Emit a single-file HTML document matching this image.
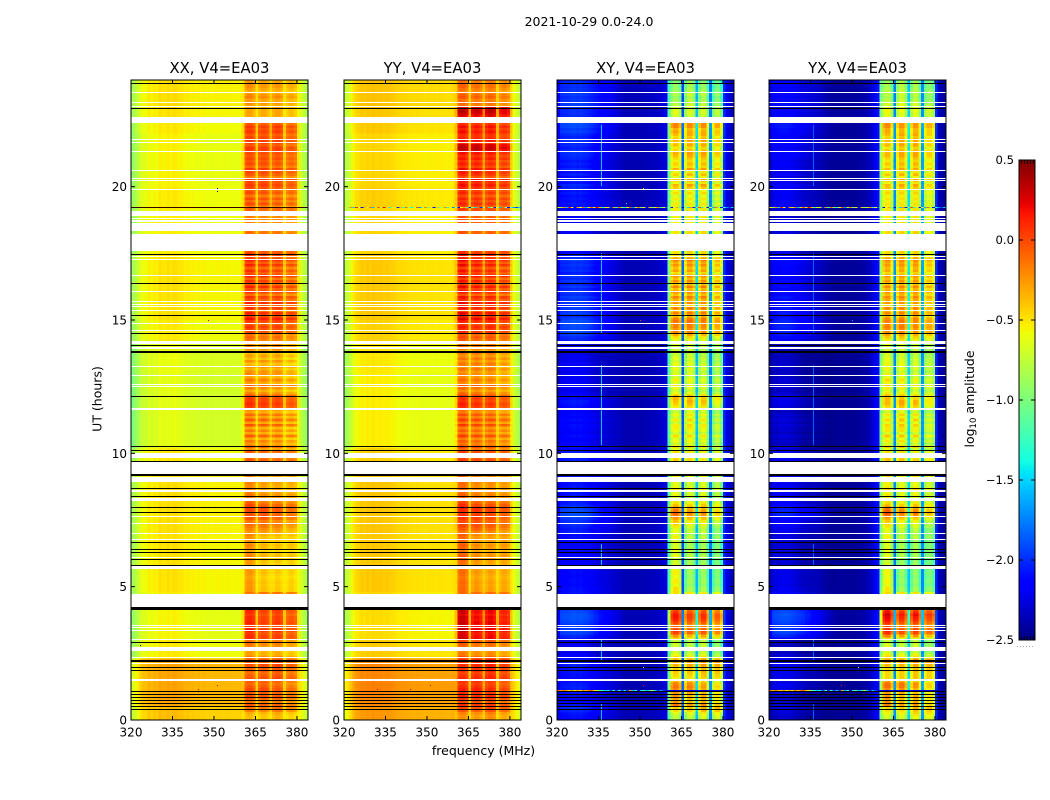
<!DOCTYPE html>
<html lang="en">
<head>
<meta charset="utf-8">
<title>2021-10-29 0.0-24.0</title>
<style>
html,body{margin:0;padding:0;background:#fff}
#figure{position:relative;width:1050px;height:800px;overflow:hidden;background:#fff;font-family:"DejaVu Sans","Liberation Sans",sans-serif}
canvas{position:absolute;top:80px;height:640px;image-rendering:pixelated}
#overlay{position:absolute;left:0;top:0}
text{font-family:"DejaVu Sans","Liberation Sans",sans-serif;fill:#000}
</style>
</head>
<body>
<div id="figure">
<canvas id="heat-xx" width="64" height="240" style="left:131px;width:177px"></canvas>
<canvas id="heat-yy" width="64" height="240" style="left:344px;width:177px"></canvas>
<canvas id="heat-xy" width="64" height="240" style="left:557px;width:177px"></canvas>
<canvas id="heat-yx" width="64" height="240" style="left:769px;width:177px"></canvas>
<svg id="overlay" width="1050" height="800" xmlns="http://www.w3.org/2000/svg">
<text x="589" y="26" text-anchor="middle" font-size="12.5">2021-10-29 0.0-24.0</text>
<text x="483.500" y="755" text-anchor="middle" font-size="12.5">frequency (MHz)</text>
<text transform="translate(101.500,399) rotate(-90)" text-anchor="middle" font-size="12.5">UT (hours)</text>
<text transform="translate(974,399) rotate(-90)" text-anchor="middle" font-size="12.5">log<tspan font-size="8.500" dy="2">10</tspan><tspan dy="-2"> amplitude</tspan></text>
</svg>
</div>
<script>
/* ---------- shared axis data ---------- */
const xTicks = [320, 335, 350, 365, 380];
const yTicks = [0, 5, 10, 15, 20];
const colorbarTicks = [-2.5, -2.0, -1.5, -1.0, -0.5, 0.0, 0.5];

/* block edges (UT hours) for the block-level arrays */
const blockEdges = [0,.5,1,1.5,2.3,3,4.2,4.8,5.8,7,8,9.2,10.2,11,12,13,14.2,15,16,17.5,19.2,20,21,22,22.5,23,24];

/* out-of-band level per block, dex */
const outXX = [.12,.2,.2,.2,-.03,-.06,-.03,0,0,.01,.01,-.02,-.13,-.13,-.13,-.11,-.03,0,0,-.04,-.03,-.05,-.05,-.02,0,.01];
const outYY = [.2,.25,.27,.25,.03,-.02,0,.04,.04,.05,.05,.02,-.08,-.08,-.08,-.06,.01,.04,.04,0,.02,0,0,.04,.05,.06];
const outXY = [.1,0,.05,.05,0,.1,.05,.1,.08,.15,.1,.08,.05,.05,0,0,.15,.12,.1,-.05,.08,.08,.1,.15,.2,.25];
const outYX = [-.05,-.1,-.05,0,-.05,.15,.05,.08,.03,.08,.05,0,-.05,-.05,-.05,-.05,.1,.08,.05,-.05,.03,.03,.05,.08,.12,.15];

/* sub-band level per block: four values each (363-367, 366-370, 371-375, 376-380 MHz) */
const subbandParallel = [
[.02,0,.05,-.03],[.05,.03,.03,-.05],[.05,.06,.02,-.05],[.02,.05,.08,.0],[.06,0,.02,-.05],[.1,.02,.04,-.03],[0,0,0,0],
[.1,-.03,-.06,-.06],[.1,-.03,-.06,-.06],[.05,.04,.0,-.06],[.08,.0,-.02,-.04],[.05,.02,0,-.03],[.05,.02,0,-.06],[.05,.02,.0,-.06],
[.05,.02,0,-.06],[.02,.02,.02,-.06],[.06,.02,.04,-.03],[.08,.03,.04,-.02],[.08,.04,.02,-.04],[.03,0,0,-.03],[.05,.03,0,-.03],
[.05,.05,.02,-.02],[.05,.05,.04,-.02],[.05,.03,.05,-.02],[.05,.03,.06,-.02],[.03,.0,.0,-.05]];
const subbandCross = [
[-.05,0,.1,.15],[.2,.1,.15,.05],[.2,.2,.1,0],[.05,.1,.15,.2],[.05,0,.05,-.05],[.15,.05,.1,.05],[0,0,0,0],
[.2,-.1,-.1,-.1],[.1,-.05,-.05,-.1],[.1,0,0,-.1],[.05,0,.05,0],[.05,.05,0,0],[.05,.1,.05,0],[0,.1,.05,-.05],
[.05,.05,0,0],[.05,.05,0,0],[.05,.1,.05,.05],[.05,.1,.1,.05],[.05,.1,.1,.05],[-.02,.05,.05,0],[0,.05,.05,0],
[0,.1,.1,.05],[0,.1,.1,.05],[.05,.05,.05,.05],[.05,.05,.05,.05],[-.05,.05,0,-.05]];
/* which sub-band each channel belongs to */
const subbandOf = [-1,-1,-1,-1,-1,-1,-1,-1,-1,-1,-1,-1,-1,-1,-1,-1,-1,-1,-1,-1,-1,-1,-1,-1,-1,-1,-1,-1,-1,-1,-1,-1,-1,-1,-1,-1,-1,-1,-1,-1,-1,0,0,0,0,-1,1,1,1,1,-1,2,2,2,2,-1,3,3,3,3,-1,-1,-1,-1];

/* mean log10 amplitude per 1 MHz channel, 320..383 */
const spectrumXX = [-.86,-.8,-.72,-.62,-.58,-.58,-.52,-.56,-.52,-.54,-.48,-.5,-.5,-.47,-.5,-.47,-.48,-.5,-.5,-.53,-.52,-.54,-.53,-.55,-.54,-.55,-.54,-.56,-.55,-.56,-.55,-.55,-.55,-.56,-.55,-.55,-.56,-.56,-.56,-.55,-.48,-.18,-.13,-.13,-.2,-.44,-.2,-.14,-.14,-.2,-.37,-.2,-.14,-.14,-.2,-.44,-.22,-.16,-.16,-.22,-.5,-.65,-.75,-.82];
const spectrumYY = [-.8,-.75,-.66,-.55,-.5,-.48,-.45,-.47,-.44,-.46,-.43,-.45,-.45,-.44,-.46,-.45,-.46,-.47,-.48,-.5,-.5,-.51,-.51,-.52,-.52,-.53,-.52,-.53,-.53,-.54,-.53,-.53,-.53,-.54,-.53,-.53,-.54,-.54,-.54,-.52,-.45,-.13,-.09,-.09,-.17,-.42,-.17,-.11,-.11,-.17,-.36,-.17,-.11,-.11,-.17,-.42,-.19,-.13,-.13,-.19,-.47,-.62,-.72,-.8];
const spectrumXY = [-2.3,-2.17,-2.15,-2.15,-2.14,-2.12,-2.12,-2.14,-2.12,-2.14,-2.15,-2.17,-2.2,-2.23,-2.25,-2.27,-2.28,-2.29,-2.3,-2.31,-2.32,-2.33,-2.34,-2.36,-2.38,-2.38,-2.38,-2.38,-2.38,-2.38,-2.38,-2.38,-2.36,-2.36,-2.36,-2.34,-2.34,-2.32,-2.3,-2.25,-1.05,-.6,-.47,-.47,-.65,-1.85,-.75,-.5,-.5,-.65,-1.5,-.7,-.5,-.5,-.85,-1.7,-.85,-.6,-.6,-.85,-2.0,-2.25,-2.3,-2.35];
const spectrumYX = [-2.34,-2.25,-2.23,-2.21,-2.2,-2.2,-2.2,-2.21,-2.23,-2.25,-2.27,-2.29,-2.31,-2.33,-2.34,-2.35,-2.36,-2.37,-2.38,-2.4,-2.42,-2.43,-2.44,-2.44,-2.44,-2.44,-2.44,-2.44,-2.44,-2.44,-2.44,-2.44,-2.42,-2.42,-2.4,-2.38,-2.34,-2.28,-2.2,-2.1,-.9,-.55,-.45,-.45,-.72,-1.7,-.7,-.48,-.48,-.7,-1.45,-.7,-.48,-.48,-.78,-1.65,-.72,-.58,-.58,-.72,-2.0,-2.35,-2.4,-2.42];

/* how strongly each channel follows the band rows / the out-of-band level */
const bandWeightsParallel = [0,0,0,0,0,0,0,0,0,0,0,0,0,0,0,0,0,0,0,0,0,0,0,0,0,0,0,0,0,0,0,0,0,0,0,0,0,0,0,0,.3,1,1,1,1,.35,1,1,1,1,.5,1,1,1,1,.35,1,1,1,1,.3,0,0,0];
const bandWeightsCross = [.2,.3,.3,.3,.3,.3,.3,.3,.3,.3,.3,.3,.3,.25,.25,.2,.2,.15,.15,.1,.1,.1,.05,.05,0,0,0,0,0,0,0,0,0,0,0,0,0,0,0,0,.5,1,1,1,1,.2,1,1,1,1,.3,1,1,1,1,.2,1,1,1,1,.1,0,0,0];
const outWeightsParallel = [1,1,1,1,1,1,1,1,1,1,1,1,1,1,1,1,1,1,1,1,1,1,1,1,1,1,1,1,1,1,1,1,1,1,1,1,1,1,1,1,.5,0,0,0,0,0,0,0,0,0,0,0,0,0,0,0,0,0,0,0,.3,.7,.7,.7];
const outWeightsCross = [.8,1,1,1,1,1,1,1,1,1,1,1,1,1,1,.9,.85,.8,.7,.6,.5,.4,.3,.2,.15,.15,.15,.15,.15,.15,.15,.15,.15,.15,.15,.15,.15,.15,.15,.15,0,0,0,0,0,0,0,0,0,0,0,0,0,0,0,0,0,0,0,0,.1,.1,.1,.1];

/* in-band row level, 0.01 dex, one value per 0.1 h, starting at 0 UT */
const bandRowsXX = [
-25,-25,-20,-5,0,5,-5,0,10,5,
5,10,5,0,5,10,5,0,5,5,
10,5,5,-10,-18,-20,-15,-10,-5,-5,
15,15,10,18,15,12,18,15,15,10,
15,20,5,0,0,0,0,0,-20,-20,
-22,-20,-22,-25,-22,-20,-22,-25,-22,-20,
-20,-15,-20,-25,-18,-15,-22,-18,-20,-15,
-15,-10,-5,0,-5,5,10,5,10,12,
8,0,-5,-10,-8,-12,-10,-15,-12,-10,
-5,-10,-5,-10,5,-15,-5,5,0,10,
5,-15,5,-15,-5,-20,5,-20,-5,-20,
8,-18,5,-15,0,-20,-5,15,20,15,
15,10,-10,-20,-8,5,-18,-5,-20,-10,
-10,-20,-10,-25,-10,-25,-15,-25,-15,-5,
-10,-15,-5,0,-5,10,10,15,5,15,
25,10,20,0,15,5,20,5,15,-5,
15,5,20,0,15,0,20,5,15,0,
20,5,20,5,15,10,0,0,0,0,
0,0,0,0,0,0,-5,-5,-5,-5,
5,5,-5,10,0,10,-5,10,5,10,
15,10,15,-5,5,10,15,0,10,5,
10,5,10,15,15,5,10,15,10,5,
15,10,15,5,0,-20,-20,-20,-20,-20,
-15,-10,-15,-5,-10,-20,-15,-10,-10,-15];
const bandRowsYY = [
-15,-15,-10,5,10,15,5,10,20,15,
15,20,15,10,15,20,15,10,15,15,
18,15,15,0,-10,-12,-8,-5,0,5,
30,28,25,35,30,28,32,28,30,25,
30,28,10,0,0,0,0,0,-10,-10,
-12,-10,-12,-15,-12,-10,-12,-15,-12,-10,
-10,-5,-10,-15,-8,-5,-12,-8,-10,-5,
-8,0,5,8,5,10,15,10,15,18,
12,5,0,-5,-5,-8,-5,-10,-8,-5,
0,-5,0,-5,10,-10,0,10,5,15,
10,-5,10,-8,0,-12,10,-12,0,-12,
12,-10,10,-8,5,-12,0,15,20,12,
15,10,-5,-15,-5,5,-15,-5,-15,-10,
-15,-5,-15,-5,-15,-5,-15,-5,-20,0,
-5,-10,0,5,0,15,15,20,10,20,
30,15,25,5,20,10,25,10,20,0,
20,10,25,5,20,5,25,10,20,5,
25,10,25,10,20,15,5,5,5,5,
5,5,5,5,5,5,5,5,5,5,
15,10,5,18,10,18,5,18,12,18,
25,18,25,5,15,20,25,10,20,12,
22,15,25,35,40,35,15,25,15,15,
25,18,25,15,10,-8,30,38,40,35,
-5,0,-5,5,0,-10,-5,0,0,-5];
const bandRowsXY = [
-25,-20,-10,5,10,15,5,0,5,5,
5,10,15,10,-5,-10,-5,0,5,0,
10,15,10,-5,-15,-25,-30,-25,-25,-30,
-10,10,35,40,30,25,35,45,50,50,
40,30,0,0,0,0,0,0,-20,-20,
-30,-25,-25,-30,-28,-25,-30,-25,-28,-30,
-30,-20,-30,-20,-25,-30,-25,-30,-15,-25,
-20,-25,-15,-5,0,10,25,30,25,15,
5,-5,-15,-20,-15,-20,-5,-15,-20,-10,
0,-10,-5,-15,0,-20,-5,0,-5,0,
-5,-20,-5,-25,-15,-20,-5,-25,-15,-10,
-5,-20,-5,-20,-10,-25,-15,-5,5,10,
10,5,-15,-25,-15,-5,-20,-10,-25,-15,
-25,-15,-25,-15,-25,-20,-25,-30,-25,-30,
-20,-15,-15,-5,10,25,20,25,25,30,
25,5,25,10,25,-5,20,10,25,5,
20,5,25,0,20,5,20,-5,15,5,
20,10,25,5,-5,0,0,0,0,0,
0,0,0,0,0,0,-5,-5,-5,-5,
0,-5,-15,-5,-15,-5,-15,0,-10,5,
15,-10,10,-15,5,-10,15,-5,5,-5,
0,10,15,5,-5,10,5,15,0,10,
15,10,25,25,20,-25,-25,-20,-20,-25,
-20,-25,-30,-35,-25,-30,-35,-40,-35,-45];
const bandRowsYX = [
-20,-15,-5,0,5,10,5,0,5,0,
0,5,15,15,0,-5,-5,-5,0,-5,
5,15,10,-5,-10,-25,-30,-20,-25,-30,
-15,15,40,45,35,30,40,50,55,60,
50,35,0,0,0,0,0,0,-25,-25,
-35,-30,-30,-35,-32,-30,-35,-30,-32,-35,
-30,-25,-30,-25,-28,-30,-28,-30,-18,-25,
-25,-25,-15,-10,-5,5,25,35,30,20,
5,-5,-15,-15,-10,-15,0,-10,-15,-5,
5,-5,0,-10,5,-20,0,5,0,5,
-5,-20,0,-25,-10,-20,0,-25,-10,-10,
0,-15,0,-15,-5,-25,-10,0,10,10,
5,5,-10,-20,-10,0,-15,-5,-20,-10,
-25,-15,-20,-15,-20,-20,-25,-25,-25,-30,
-20,-15,-10,0,10,20,20,25,20,25,
20,5,20,10,20,-5,15,10,20,5,
15,5,20,0,15,5,15,-5,10,5,
15,10,20,5,-5,0,0,0,0,0,
0,0,0,0,0,0,-5,-5,-5,-5,
0,-5,-10,-5,-10,-5,-10,0,-5,5,
10,-10,10,-15,5,-10,10,-5,5,-5,
0,10,10,5,-5,10,5,10,0,10,
10,10,20,20,15,-20,-20,-20,-15,-20,
-15,-20,-25,-30,-25,-25,-30,-35,-30,-40];

/* fully flagged (white) intervals, [start, end] UT hours */
const blankSpans = [[1.46,1.54],[2.08,2.12],[2.33,2.37],[2.6,2.74],[3.01,3.05],[3.33,3.37],[3.44,3.47],[3.5,3.55],[4.22,4.72],[5.65,5.78],[6.08,6.12],[6.76,6.8],[6.96,7],[7.36,7.4],[7.61,7.64],[8.19,8.27],[8.3,8.33],[8.56,8.63],[8.96,9.13],[9.25,9.69],[9.84,10.01],[11.65,11.71],[12.48,12.52],[12.57,12.6],[12.91,12.95],[13.25,13.28],[13.91,13.94],[13.97,14],[14.09,14.21],[14.58,14.61],[14.86,14.89],[15.33,15.36],[15.48,15.51],[15.58,15.61],[15.67,15.7],[16.07,16.1],[16.66,16.69],[17.26,17.29],[17.36,17.39],[17.58,18.23],[18.32,18.62],[18.68,18.75],[18.8,18.84],[18.91,19.1],[19.88,19.92],[20.2,20.24],[20.29,20.33],[20.6,20.63],[21.3,21.33],[21.66,21.69],[21.76,21.79],[22.39,22.61],[22.98,23.03],[23.15,23.18],[23.52,23.55]];

/* zero-valued (black) intervals, [start, end] UT hours */
const blackSpans = [[.4,.43],[.51,.54],[.61,.64],[.73,.76],[.84,.87],[.95,.98],[1.05,1.08],[1.86,1.89],[1.98,2.0],[2.16,2.25],[2.9,2.93],[4.1,4.22],[5.8,5.83],[5.99,6.02],[6.27,6.3],[6.39,6.42],[6.65,6.68],[7.76,7.79],[7.96,7.99],[8.36,8.39],[8.68,8.71],[9.17,9.24],[9.68,9.71],[10.07,10.12],[10.25,10.28],[12.13,12.16],[13.76,13.8],[13.82,13.85],[14.05,14.08],[14.45,14.5],[15.16,15.19],[16.36,16.39],[17.46,17.49],[22.93,22.96],[23.83,23.87]];

/* narrow interference line in the cross-hand panels */
const rfiFreq = 336;
const rfiSpans = [[0,.6],[2.2,3],[5.8,6.6],[10.3,13.3],[14.5,17.5],[20,22.3]];
const rfiLevelXY = -1.55;
const rfiLevelYX = -1.85;

/* rows of per-channel spikes */
const spikeHourHigh = 19.22;
const spikeHourLow = 1.14;
const spikeRowHigh = [-.6,-.9,-.2,-1.5,.1,-.6,-2.2,-.3,-.7,-.1,-1.6,-.5,-.1,-.8,.2,-.4,-1.3,-.7,-.5,-2.0,-.3,-1.2,-.1,-.9,-1.4,-.6,.0,-1.7,-.8,-.2,-1.1,-.5,-2.1,-.4,-1.0,-.7,-.2,-1.3,-.6,-1.8,-.9,-2.2,-.5,-.3,-1.1,-2.3,-.8,-1.5,-.2,-2.0,-.9,.0,-1.4,-.6,-2.1,-.7,-1.6,-.1,-1.0,-2.2,-1.3,-1.7,-2.0,-1.5];
const spikeRowLow = [-.2,-.3,-.1,-.35,-.45,-.2,-.55,-.3,-.5,-.1,-.4,-.2,-.05,-.45,-.7,-1.1,-1.3,-1.5,-1.4,-1.9,-1.2,-2.0,-1.3,-1.9,-1.5,-2.0,-.3,-1.6,-1.3,-2.1,-1.4,-1.2,-1.6,-1.3,-.8,-1.5,-2.0,-1.6,-1.9,-2.1,-2.2,-2.2,-2.3,-2.2,-2.1,-2.3,-2.2,-2.2,-2.3,-2.3,-2.2,-2.2,-2.3,-2.3,-2.3,-2.2,-2.3,-2.2,-2.3,-2.3,-2.4,-2.4,-2.4,-2.4];

/* isolated bad samples: [UT hour, frequency MHz, log10 amplitude] */
const dotsXX = [[19.95,351,-2.5],[19.85,351,-2.5],[15.0,348,.3],[2.8,323.3,-2.5],[1.3,351,.3],[1.15,344.2,.3]];
const dotsYY = [[1.3,351,.3],[1.15,332,.3],[1.15,344,.3]];
const dotsXY = [[1.3,351,.2],[2.0,351,-1.0],[19.95,351,-.5],[15.0,350,.0],[19.4,345,-1.2]];
const dotsYX = [[1.3,346,.2],[2.0,352,-1.2],[15.0,350,-1.6]];

/* ---------- layout ---------- */
const panelTop = 80;
const panelHeight = 640;
const panelWidth = 177;
const utMax = 24;
const freqMin = 320;
const freqSpan = 64;
const cbLeft = 1019, cbRight = 1035, cbTop = 160, cbBottom = 640;
const cbMin = -2.5, cbMax = 0.5;

const panels = [
  {key:'xx', title:'XX, V4=EA03', left:131, spectrum:spectrumXX, out:outXX, outWeights:outWeightsParallel, bandWeights:bandWeightsParallel, sub:subbandParallel, rows:bandRowsXX, dots:dotsXX, spikes:false, rfi:null},
  {key:'yy', title:'YY, V4=EA03', left:344, spectrum:spectrumYY, out:outYY, outWeights:outWeightsParallel, bandWeights:bandWeightsParallel, sub:subbandParallel, rows:bandRowsYY, dots:dotsYY, spikes:true, rfi:null},
  {key:'xy', title:'XY, V4=EA03', left:557, spectrum:spectrumXY, out:outXY, outWeights:outWeightsCross, bandWeights:bandWeightsCross, sub:subbandCross, rows:bandRowsXY, dots:dotsXY, spikes:true, rfi:rfiLevelXY},
  {key:'yx', title:'YX, V4=EA03', left:769, spectrum:spectrumYX, out:outYX, outWeights:outWeightsCross, bandWeights:bandWeightsCross, sub:subbandCross, rows:bandRowsYX, dots:dotsYX, spikes:true, rfi:rfiLevelYX}
];

/* ---------- scales ---------- */
function yScale(hour){ return panelTop + panelHeight * (1 - hour / utMax); }
function xScale(panel, freq){ return panel.left + (freq - freqMin) / freqSpan * panelWidth; }
function cbScale(v){ return cbBottom - (v - cbMin) / (cbMax - cbMin) * (cbBottom - cbTop); }

function segment(t, stops){
  for (let i = 1; i < stops.length; i++){
    if (t <= stops[i][0]){
      const a = stops[i-1], b = stops[i];
      return a[1] + (b[1]-a[1]) * (t-a[0]) / (b[0]-a[0]);
    }
  }
  return stops[stops.length-1][1];
}
const jetR = [[0,0],[.35,0],[.66,1],[.89,1],[1,.5]];
const jetG = [[0,0],[.125,0],[.375,1],[.64,1],[.91,0],[1,0]];
const jetB = [[0,.5],[.11,1],[.34,1],[.65,0],[1,0]];
function colorOf(v){
  const t = Math.max(0, Math.min(1, (v - cbMin) / (cbMax - cbMin)));
  return 'rgb(' + Math.round(255*segment(t,jetR)) + ',' + Math.round(255*segment(t,jetG)) + ',' + Math.round(255*segment(t,jetB)) + ')';
}
function blockIndex(hour){
  for (let i = 0; i < blockEdges.length - 1; i++){
    if (hour < blockEdges[i+1]) return i;
  }
  return blockEdges.length - 2;
}

const SVGNS = 'http://www.w3.org/2000/svg';
const overlay = document.getElementById('overlay');
function make(tag, attrs, parent){
  const el = document.createElementNS(SVGNS, tag);
  for (const k in attrs) el.setAttribute(k, attrs[k]);
  (parent || overlay).appendChild(el);
  return el;
}

/* ---------- heatmaps ---------- */
panels.forEach(function(panel){
  const ctx = document.getElementById('heat-' + panel.key).getContext('2d');
  for (let r = 0; r < panel.rows.length; r++){
    const hour = r / 10;
    const block = blockIndex(hour + 0.05);
    const off = panel.out[block];
    for (let c = 0; c < panel.spectrum.length; c++){
      const sb = subbandOf[c];
      const subLevel = sb >= 0 ? panel.sub[block][sb] : 0;
      const v = panel.spectrum[c] + panel.outWeights[c] * off + panel.bandWeights[c] * panel.rows[r] / 100 + subLevel;
      ctx.fillStyle = colorOf(v);
      ctx.fillRect(c, panel.rows.length - 1 - r, 1, 1);
    }
  }
});

/* ---------- panel furniture ---------- */
panels.forEach(function(panel){
  const group = make('g', {});
  
  

  const spanX = panel.left, spanW = panelWidth;

  /* interference line */
  if (panel.rfi !== null){
    rfiSpans.forEach(function(s){
      const top = Math.round(yScale(s[1]));
      const h = Math.round(yScale(s[0]) - yScale(s[1]));
      const el = make('rect', {x:Math.round(xScale(panel, rfiFreq)), y:top, width:1, height:h, fill:colorOf(panel.rfi), 'shape-rendering':'crispEdges'}, group);
      
      
    });
  }

  blankSpans.forEach(function(s){
    const top = Math.round(yScale(s[1]));
    const h = Math.max(1, Math.round(yScale(s[0]) - yScale(s[1])));
    const el = make('rect', {x:spanX, y:top, width:spanW, height:h, fill:'#fff', 'shape-rendering':'crispEdges'}, group);
    
    
  });
  blackSpans.forEach(function(s){
    const top = Math.round(yScale(s[1]));
    const h = Math.max(1, Math.round(yScale(s[0]) - yScale(s[1])));
    const el = make('rect', {x:spanX, y:top, width:spanW, height:h, fill:'#000', 'shape-rendering':'crispEdges'}, group);
    
    
  });

  /* spike rows */
  const cw = panelWidth / freqSpan;
  if (panel.spikes){
    spikeRowHigh.forEach(function(v, c){
      const el = make('rect', {x:xScale(panel, freqMin + c), y:Math.round(yScale(spikeHourHigh)), width:cw, height:1, fill:colorOf(v), 'shape-rendering':'crispEdges'}, group);
      
      
    });
  } else {
    const el = make('rect', {x:spanX, y:Math.round(yScale(spikeHourHigh)), width:spanW, height:1, fill:'#300', 'shape-rendering':'crispEdges'}, group);
    
    
  }
  if (panel.key === 'xy' || panel.key === 'yx'){
    spikeRowLow.forEach(function(v, c){
      const el = make('rect', {x:xScale(panel, freqMin + c), y:Math.round(yScale(spikeHourLow)), width:cw, height:1, fill:colorOf(v), 'shape-rendering':'crispEdges'}, group);
      
      
    });
  }

  /* isolated dots */
  panel.dots.forEach(function(d){
    const el = make('rect', {x:Math.round(xScale(panel, d[1])), y:Math.round(yScale(d[0])), width:1, height:1, fill:colorOf(d[2]), 'shape-rendering':'crispEdges'}, group);
    
    
  });

  /* frame */
  const frame = make('rect', {x:panel.left, y:panelTop, width:panelWidth, height:panelHeight, fill:'none', stroke:'#000', 'stroke-width':1}, group);
  
  

  /* x ticks */
  xTicks.forEach(function(f){
    const x = xScale(panel, f);
    const bottom = make('line', {x1:x, x2:x, y1:panelTop+panelHeight, y2:panelTop+panelHeight-4, stroke:'#000', 'stroke-width':1}, group);
    
    
    const top = make('line', {x1:x, x2:x, y1:panelTop, y2:panelTop+4, stroke:'#000', 'stroke-width':1}, group);
    
    
    const label = make('text', {x:x, y:736.500, 'text-anchor':'middle', 'font-size':12}, group);
    label.textContent = String(f);
    
    
  });

  /* y ticks */
  yTicks.forEach(function(h){
    const y = yScale(h);
    const left = make('line', {x1:panel.left, x2:panel.left+4, y1:y, y2:y, stroke:'#000', 'stroke-width':1}, group);
    
    
    const right = make('line', {x1:panel.left+panelWidth, x2:panel.left+panelWidth-4, y1:y, y2:y, stroke:'#000', 'stroke-width':1}, group);
    
    
    const label = make('text', {x:panel.left-4, y:y+4.5, 'text-anchor':'end', 'font-size':12}, group);
    label.textContent = String(h);
    
    
  });

  /* title */
  const title = make('text', {x:panel.left+panelWidth/2, y:73, 'text-anchor':'middle', 'font-size':14.8}, group);
  title.textContent = panel.title;
  
  
});

/* ---------- colorbar ---------- */
(function(){
  const group = make('g', {});
  
  
  const steps = 256;
  for (let i = 0; i < steps; i++){
    const v = cbMin + (i + .5) / steps * (cbMax - cbMin);
    const y1 = cbScale(cbMin + (i + 1) / steps * (cbMax - cbMin));
    const y0 = cbScale(cbMin + i / steps * (cbMax - cbMin));
    const swatch = make('rect', {x:cbLeft, y:y1, width:cbRight-cbLeft, height:y0-y1+.6, fill:colorOf(v), 'shape-rendering':'crispEdges'}, group);
    
    
  }
  const frame = make('rect', {x:cbLeft, y:cbTop, width:cbRight-cbLeft, height:cbBottom-cbTop, fill:'none', stroke:'#000', 'stroke-width':1}, group);
  
  
  colorbarTicks.forEach(function(v){
    const y = cbScale(v);
    const l = make('line', {x1:cbLeft, x2:cbLeft+4, y1:y, y2:y, stroke:'#000', 'stroke-width':1}, group);
    
    
    const r = make('line', {x1:cbRight, x2:cbRight-4, y1:y, y2:y, stroke:'#000', 'stroke-width':1}, group);
    
    
    const label = make('text', {x:cbLeft-5, y:y+4.2, 'text-anchor':'end', 'font-size':11.6}, group);
    label.textContent = v.toFixed(1).replace('-', '\u2212');
    
    
  });
  for (let k = 0; k < 5; k++){
    const x = cbLeft + 2.5 + k * 3;
    const t = make('line', {x1:x, x2:x, y1:cbTop, y2:cbTop+4, stroke:'#000', 'stroke-width':.8}, group);
    
    
    const b = make('line', {x1:x, x2:x, y1:cbBottom, y2:cbBottom-4, stroke:'#000', 'stroke-width':.8}, group);
    
    
  }
  const dots = make('line', {x1:1017, x2:1035, y1:646.5, y2:646.5, stroke:'#aaa', 'stroke-width':1, 'stroke-dasharray':'1 2'}, group);
  
  
})();
</script>
</body>
</html>
